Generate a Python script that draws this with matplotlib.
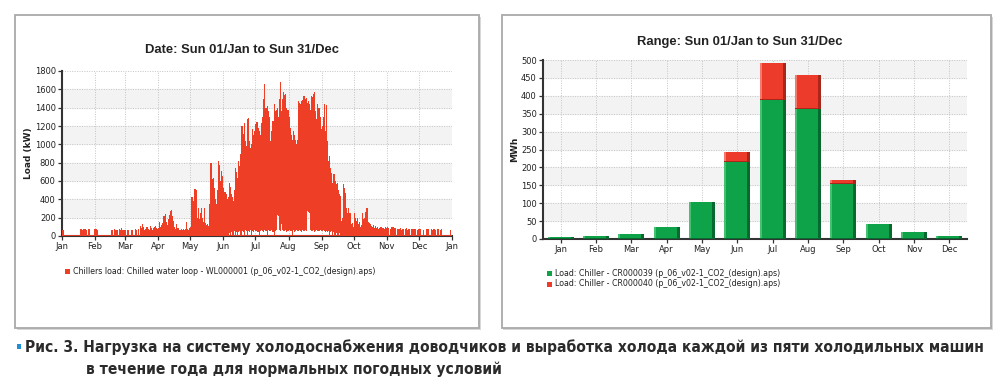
import matplotlib
matplotlib.use("Agg")
import matplotlib.pyplot as plt
from matplotlib.patches import Rectangle
import numpy as np

# ---------------- Left chart: chilled water loop load (kW), daily peak / night minimum ----------------
jan_peak = [65, 60, 0, 0, 0, 0, 0, 0, 0, 0, 0, 0, 0, 0, 0, 0, 0, 75, 75, 70, 75, 75, 70, 0, 75, 75, 0, 0, 0, 0, 75]
feb_peak = [75, 75, 70, 0, 0, 0, 0, 0, 0, 0, 0, 0, 0, 0, 0, 70, 65, 0, 75, 70, 60, 0, 80, 70, 90, 60, 70, 65]
mar_peak = [60, 0, 70, 65, 0, 0, 70, 0, 0, 75, 60, 0, 80, 0, 110, 90, 135, 100, 60, 75, 100, 80, 60, 110, 90, 70, 85, 100, 110, 90, 80]
apr_peak = [90, 150, 100, 120, 145, 220, 240, 150, 120, 180, 230, 270, 280, 220, 160, 100, 80, 127, 90, 70, 60, 80, 70, 75, 70, 80, 150, 80, 60, 90]
may_peak = [100, 420, 430, 380, 510, 500, 200, 300, 180, 250, 310, 200, 150, 300, 140, 120, 127, 110, 350, 800, 620, 636, 527, 400, 345, 500, 818, 780, 600, 709, 650]
jun_peak = [527, 480, 455, 400, 420, 582, 540, 455, 430, 380, 500, 745, 700, 636, 818, 760, 900, 1200, 1109, 1230, 1036, 980, 1273, 1283, 1036, 964, 1000, 1164, 1100, 1150]
jul_peak = [1218, 1240, 1180, 1145, 1100, 1236, 1300, 1500, 1662, 1400, 1400, 1417, 1364, 1300, 1036, 1150, 1254, 1440, 1364, 1380, 1400, 1300, 1500, 1680, 1364, 1500, 1570, 1540, 1545, 1400, 1380]
aug_peak = [1300, 1182, 1100, 1050, 1145, 1100, 1050, 1000, 1050, 1473, 1450, 1436, 1473, 1480, 1527, 1500, 1509, 1450, 1473, 1440, 1380, 1527, 1520, 1545, 1573, 1364, 1273, 1436, 1400, 1300, 1164]
sep_peak = [1200, 1300, 1436, 1150, 1430, 1036, 818, 870, 745, 690, 582, 673, 600, 564, 582, 500, 455, 436, 164, 200, 564, 520, 473, 300, 255, 309, 250, 127, 145, 100]
oct_peak = [255, 200, 164, 200, 127, 150, 100, 120, 255, 182, 200, 263, 309, 150, 137, 127, 110, 100, 120, 90, 110, 83, 100, 80, 90, 100, 85, 90, 80, 95, 85]
nov_peak = [100, 90, 0, 80, 100, 95, 100, 90, 85, 0, 80, 75, 90, 70, 80, 75, 0, 80, 85, 70, 75, 80, 0, 75, 70, 80, 75, 0, 70, 75]
dec_peak = [80, 75, 0, 0, 70, 0, 0, 75, 80, 0, 0, 75, 70, 80, 75, 70, 0, 80, 75, 0, 70, 75, 0, 0, 0, 0, 0, 0, 0, 60, 0]

jun_min = [0, 0, 0, 0, 0, 30, 0, 40, 0, 0, 50, 0, 45, 0, 40, 55, 0, 50, 45, 0, 60, 50, 0, 55, 40, 60, 0, 50, 45, 60]
jul_min = [50, 60, 45, 0, 55, 60, 50, 45, 60, 55, 50, 0, 60, 55, 50, 60, 45, 0, 55, 60, 230, 220, 60, 50, 130, 60, 55, 50, 60, 45, 55]
aug_min = [60, 50, 55, 0, 60, 45, 55, 60, 50, 55, 60, 50, 45, 60, 55, 60, 50, 270, 260, 250, 60, 55, 50, 60, 45, 55, 60, 50, 55, 60, 50]
sep_min = [55, 60, 50, 45, 55, 40, 50, 0, 45, 50, 0, 40, 0, 35, 0, 0, 30, 0, 0, 0, 0, 0, 0, 0, 0, 0, 0, 0, 0, 0]

month_start_days = [0, 31, 59, 90, 120, 151, 181, 212, 243, 273, 304, 334, 365]
left_tick_labels = ["Jan", "Feb", "Mar", "Apr", "May", "Jun", "Jul", "Aug", "Sep", "Oct", "Nov", "Dec", "Jan"]
left_yticks = [0, 200, 400, 600, 800, 1000, 1200, 1400, 1600, 1800]
left_title = "Date: Sun 01/Jan to Sun 31/Dec"
left_ylabel = "Load (kW)"
left_legend = "Chillers load: Chilled water loop - WL000001 (p_06_v02-1_CO2_(design).aps)"

# ---------------- Right chart: monthly chiller output (MWh) ----------------
months = ["Jan", "Feb", "Mar", "Apr", "May", "Jun", "Jul", "Aug", "Sep", "Oct", "Nov", "Dec"]
cr000039 = [5, 7, 14, 33, 103, 215, 388, 363, 153, 42, 20, 9]
cr000040 = [0, 0, 0, 0, 0, 29, 103, 95, 12, 0, 0, 0]
right_yticks = [0, 50, 100, 150, 200, 250, 300, 350, 400, 450, 500]
right_title = "Range: Sun 01/Jan to Sun 31/Dec"
right_ylabel = "MWh"
right_legend = ["Load: Chiller - CR000039 (p_06_v02-1_CO2_(design).aps)",
                "Load: Chiller - CR000040 (p_06_v02-1_CO2_(design).aps)"]

caption_1 = "Рис. 3. Нагрузка на систему холодоснабжения доводчиков и выработка холода каждой из пяти холодильных машин"
caption_2 = "в течение года для нормальных погодных условий"

# ---------------- styling ----------------
plt.rcParams["font.family"] = ["DejaVu Sans"]
W, H = 1000, 388
fig = plt.figure(figsize=(W / 100, H / 100), dpi=100)
fig.patch.set_facecolor("white")

RED = "#ee3f26"
GREEN = "#0ea349"
GREEN_DARK = "#07692f"
GREEN_LIGHT = "#45c070"
RED2 = "#ec3b2b"
RED2_DARK = "#a8261a"
RED2_LIGHT = "#f57a6c"
BAND = "#f3f3f3"
GRID = "#c4c4c4"
AX = "#333333"
TXT = "#222222"
TICK_FS = 6.0
LEG_FS = 5.7


def fx(px):
    return px / W


def fy(py):
    return 1 - py / H


# panels (behind the axes)
for x0, x1 in [(15, 479), (502, 991)]:
    fig.patches.append(Rectangle((fx(x0) + 0.0015, fy(328) - 0.004), fx(x1 - x0), (328 - 15) / H,
                                 transform=fig.transFigure, facecolor="#d8d8d8", edgecolor="none", zorder=-3))
    fig.patches.append(Rectangle((fx(x0), fy(328)), fx(x1 - x0), (328 - 15) / H,
                                 transform=fig.transFigure, facecolor="white", edgecolor="#a9a9a9",
                                 linewidth=1.3, zorder=-2))


def style_axes(ax):
    ax.set_facecolor("white")
    for s in ["top", "right"]:
        ax.spines[s].set_visible(False)
    for s in ["left", "bottom"]:
        ax.spines[s].set_color(AX)
        ax.spines[s].set_linewidth(1.5)
    ax.tick_params(axis="both", labelsize=TICK_FS, colors=AX, length=3, width=0.9, pad=1.5, labelcolor=TXT)
    ax.grid(True, color=GRID, linestyle=(0, (1, 1.5)), linewidth=0.7)
    ax.set_axisbelow(True)


# ---------------- Left axes ----------------
axL = fig.add_axes([fx(62), fy(236), fx(452 - 62), (236 - 71) / H])
style_axes(axL)
peaks = np.array(jan_peak + feb_peak + mar_peak + apr_peak + may_peak + jun_peak + jul_peak
                 + aug_peak + sep_peak + oct_peak + nov_peak + dec_peak, dtype=float)
n_before = len(jan_peak + feb_peak + mar_peak + apr_peak + may_peak)
n_after = len(oct_peak + nov_peak + dec_peak)
mins = np.array([0] * n_before + jun_min + jul_min + aug_min + sep_min + [0] * n_after, dtype=float)
days = np.arange(len(peaks))
for lo, hi in zip(left_yticks[1::2], left_yticks[2::2]):
    axL.axhspan(lo, hi, color=BAND, zorder=0)
axL.bar(days + 0.5, np.where(peaks > 0, peaks - mins, 0), bottom=mins, width=1.08, color=RED,
        linewidth=0, zorder=3)
axL.axhline(0, color=RED, linewidth=1.3, zorder=3)
axL.set_xlim(0, 365)
axL.set_ylim(0, 1800)
axL.set_xticks(month_start_days)
axL.set_xticklabels(left_tick_labels)
axL.set_yticks(left_yticks)
axL.set_ylabel(left_ylabel, fontsize=6.5, fontweight="bold", color=TXT)
axL.yaxis.set_label_coords(-0.074, 0.5)

fig.text(fx(242), fy(50), left_title, ha="center", va="center", fontsize=9.4, fontweight="bold",
         color=TXT, family="Liberation Sans")
fig.patches.append(Rectangle((fx(65), fy(274)), fx(5), 5 / H, transform=fig.transFigure,
                             facecolor=RED, edgecolor="none", zorder=5))
fig.text(fx(73), fy(271.5), left_legend, ha="left", va="center", fontsize=LEG_FS, color=TXT)

# ---------------- Right axes ----------------
axR = fig.add_axes([fx(543), fy(239), fx(967 - 543), (239 - 60) / H])
style_axes(axR)
for lo, hi in zip(right_yticks[1::2], right_yticks[2::2]):
    axR.axhspan(lo, hi, color=BAND, zorder=0)
xpos = np.arange(len(months))
bw = 0.73
g = np.array(cr000039, dtype=float)
r = np.array(cr000040, dtype=float)
axR.bar(xpos, g, width=bw, color=GREEN, linewidth=0, zorder=3)
axR.bar(xpos - bw / 2 + 0.025, g, width=0.05, color=GREEN_LIGHT, linewidth=0, zorder=3.1)
axR.bar(xpos + bw / 2 - 0.04, g, width=0.08, color=GREEN_DARK, linewidth=0, zorder=3.1)
axR.bar(xpos, np.minimum(g, 2.0), width=bw, color=GREEN_DARK, linewidth=0, zorder=3.2)
axR.bar(xpos, r, bottom=g, width=bw, color=RED2, linewidth=0, zorder=3)
axR.bar(xpos - bw / 2 + 0.025, r, bottom=g, width=0.05, color=RED2_LIGHT, linewidth=0, zorder=3.1)
axR.bar(xpos + bw / 2 - 0.04, r, bottom=g, width=0.08, color=RED2_DARK, linewidth=0, zorder=3.1)
axR.bar(xpos, np.where(r > 0, 3.0, 0), bottom=g, width=bw, color=RED2_DARK, linewidth=0, zorder=3.2)
axR.set_xlim(-0.5, 11.5)
axR.set_ylim(0, 500)
axR.set_xticks(xpos)
axR.set_xticklabels(months)
axR.set_yticks(right_yticks)
axR.set_ylabel(right_ylabel, fontsize=6.5, fontweight="bold", color=TXT)
axR.yaxis.set_label_coords(-0.057, 0.5)

fig.text(fx(740), fy(42), right_title, ha="center", va="center", fontsize=9.4, fontweight="bold",
         color=TXT, family="Liberation Sans")
for i, (lab, col) in enumerate(zip(right_legend, [GREEN, RED2])):
    yy = 273 + i * 11
    fig.patches.append(Rectangle((fx(547), fy(yy + 2.5)), fx(5), 5 / H, transform=fig.transFigure,
                                 facecolor=col, edgecolor="none", zorder=5))
    fig.text(fx(555), fy(yy), lab, ha="left", va="center", fontsize=LEG_FS, color=TXT)

# ---------------- Caption (condensed bold, fitted to the reference width) ----------------
fig.patches.append(Rectangle((fx(17), fy(349)), fx(4), 5 / H, transform=fig.transFigure,
                             facecolor="#1f8fd6", edgecolor="none", zorder=5))
cap_kw = dict(ha="left", va="center", fontweight="bold", color="#2b2b2b",
              family="DejaVu Sans", fontstretch="condensed")
t1 = fig.text(fx(25), fy(347), caption_1, fontsize=12, **cap_kw)
t2 = fig.text(fx(86), fy(369), caption_2, fontsize=12, **cap_kw)
renderer = fig.canvas.get_renderer()
w1 = t1.get_window_extent(renderer).width
fs = 12 * (981 - 25) / w1
t1.set_fontsize(fs)
t2.set_fontsize(fs)

fig.savefig("out.png", dpi=100, facecolor="white")
